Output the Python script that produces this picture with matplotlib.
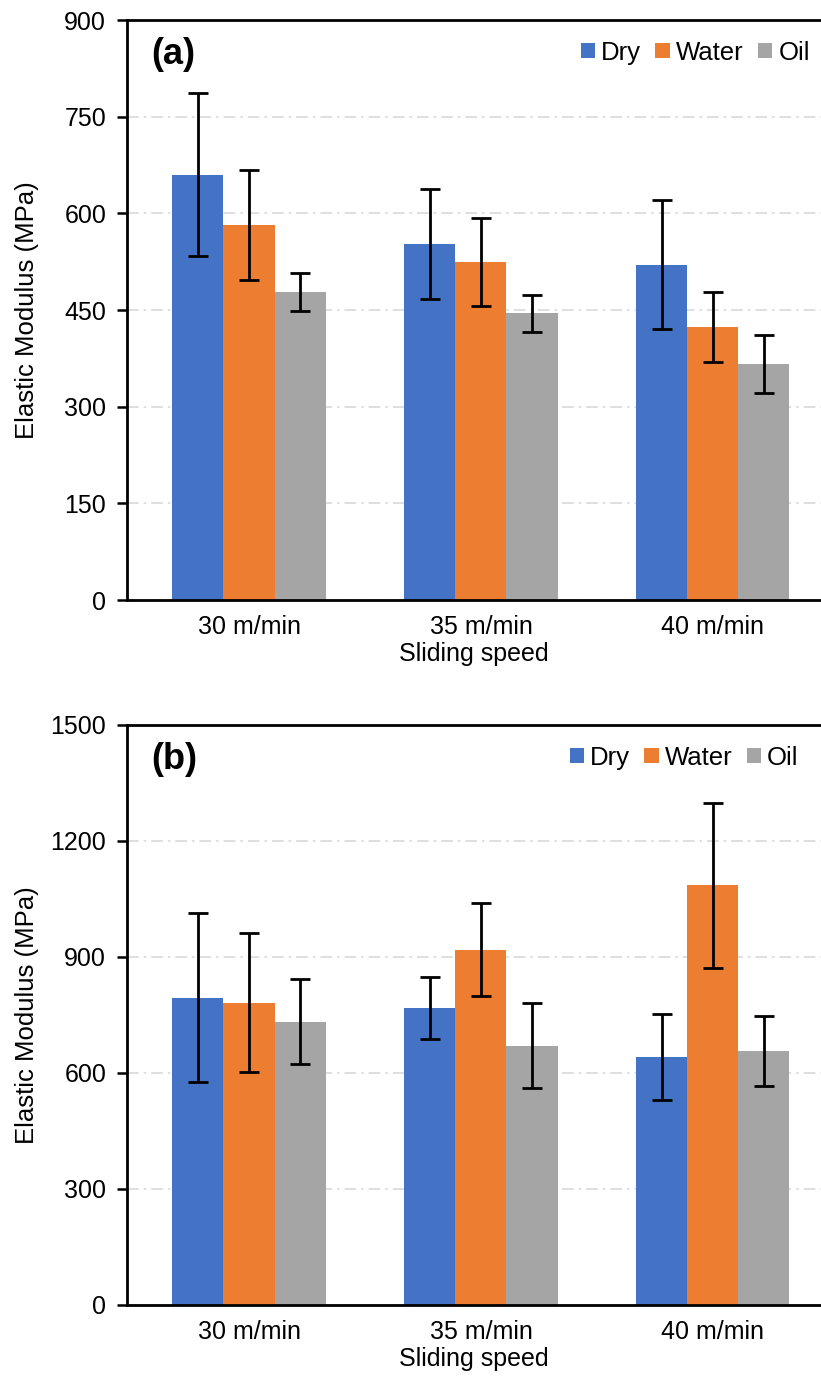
import numpy as np
import matplotlib
matplotlib.use("Agg")
import matplotlib.pyplot as plt

plt.rcParams['font.family'] = ['Liberation Sans', 'DejaVu Sans']

speeds = ['30 m/min', '35 m/min', '40 m/min']
conditions = ['Dry', 'Water', 'Oil']
colors = ['#4472c4', '#ed7d31', '#a5a5a5']

# panel (a)
mod_a = {'Dry': [660, 552, 520], 'Water': [582, 524, 424], 'Oil': [478, 445, 366]}
err_a = {'Dry': [126, 85, 100], 'Water': [85, 68, 54], 'Oil': [29, 29, 45]}

# panel (b)
mod_b = {'Dry': [795, 767, 642], 'Water': [782, 919, 1085], 'Oil': [732, 670, 657]}
err_b = {'Dry': [218, 80, 111], 'Water': [180, 121, 214], 'Oil': [110, 110, 90]}

fig = plt.figure(figsize=(8.21, 13.87), dpi=100)

W, H = 821, 1387


def panel(rect, mods, errs, ymax, step, tag, leg_x):
    ax = fig.add_axes(rect)
    x = np.arange(len(speeds))
    bw = 0.22
    for i, c in enumerate(conditions):
        ax.bar(x + (i - 1) * bw, mods[c], bw, color=colors[i], label=c, zorder=2)
        ax.errorbar(x + (i - 1) * bw, mods[c], yerr=errs[c], fmt='none', ecolor='black',
                    elinewidth=2.0, capsize=7, capthick=2.0, zorder=3)
    ax.set_xlim(-0.526, 2.466)
    ax.set_ylim(0, ymax)
    ax.set_yticks(np.arange(0, ymax + 1, step))
    ax.set_xticks(x)
    ax.set_xticklabels(speeds)
    ax.tick_params(axis='x', length=0, labelsize=18, pad=11)
    ax.tick_params(axis='y', length=7, width=1.8, labelsize=18, direction='out', pad=8)
    ax.yaxis.grid(True, color='#d9d9d9', linewidth=1.2, linestyle=(0, (7, 3, 1.5, 3)), zorder=0)
    for s in ['left', 'bottom', 'top']:
        ax.spines[s].set_linewidth(2.0)
    ax.spines['right'].set_visible(False)
    ax.set_ylabel('Elastic Modulus (MPa)', fontsize=18.5)
    ax.yaxis.set_label_coords(-88 / (W - 127), 0.5)
    ax.set_xlabel('Sliding speed', fontsize=18, labelpad=2)
    ax.text(0.035, 0.97, tag, transform=ax.transAxes, fontsize=26, fontweight='bold',
            va='top', ha='left')
    ax.legend(loc='upper right', ncol=3, frameon=False, fontsize=18.5,
              handlelength=0.55, handleheight=0.55, handletextpad=0.25,
              columnspacing=0.55, bbox_to_anchor=(leg_x, 0.993), borderaxespad=0.25)
    return ax


panel([127 / W, 1 - 600 / H, 1 - 127 / W, 580 / H], mod_a, err_a, 900, 150, '(a)', 1.008)
panel([127 / W, 1 - 1305 / H, 1 - 127 / W, 580 / H], mod_b, err_b, 1500, 300, '(b)', 0.992)

fig.savefig('out.png', dpi=100)
